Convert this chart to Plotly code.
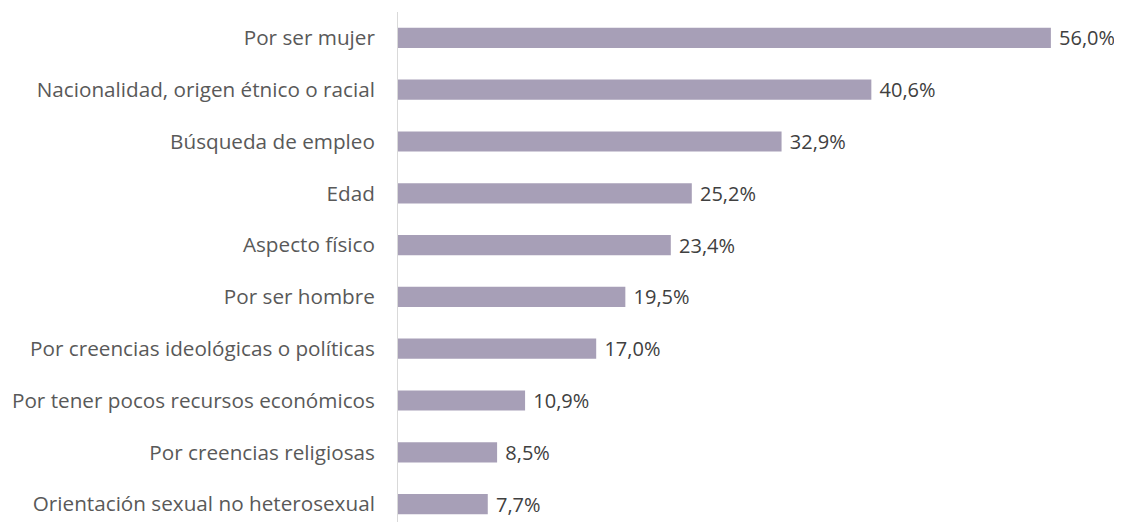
import plotly.graph_objects as go

categories = [
    "Por ser mujer",
    "Nacionalidad, origen étnico o racial",
    "Búsqueda de empleo",
    "Edad",
    "Aspecto físico",
    "Por ser hombre",
    "Por creencias ideológicas o políticas",
    "Por tener pocos recursos económicos",
    "Por creencias religiosas",
    "Orientación sexual no heterosexual",
]
values = [56.0, 40.6, 32.9, 25.2, 23.4, 19.5, 17.0, 10.9, 8.5, 7.7]

FONT = "Open Sans"

fig = go.Figure(go.Bar(
    x=values,
    y=categories,
    orientation="h",
    marker=dict(color="#A79FB7", line=dict(width=0)),
    width=0.39,
    texttemplate=" %{x:.1f}%",
    textposition="outside",
    constraintext="none",
    textfont=dict(family=FONT, size=20, color="#404040"),
    cliponaxis=False,
))

fig.update_layout(
    width=1114,
    height=514,
    margin=dict(l=390, r=0, t=4, b=0),
    paper_bgcolor="white",
    plot_bgcolor="white",
    separators=",.",
    showlegend=False,
    xaxis=dict(range=[0, 62.1], showgrid=False, zeroline=False,
               showticklabels=False, ticks="", fixedrange=True),
    yaxis=dict(range=[9.346, -0.5], showgrid=False, zeroline=False,
               showline=True, linecolor="#D9D9D9", linewidth=1,
               ticks="outside", ticklen=18, tickcolor="rgba(0,0,0,0)",
               tickfont=dict(family=FONT, size=20.7, color="#595959"),
               automargin=False),
)

fig.write_html("out.html")
